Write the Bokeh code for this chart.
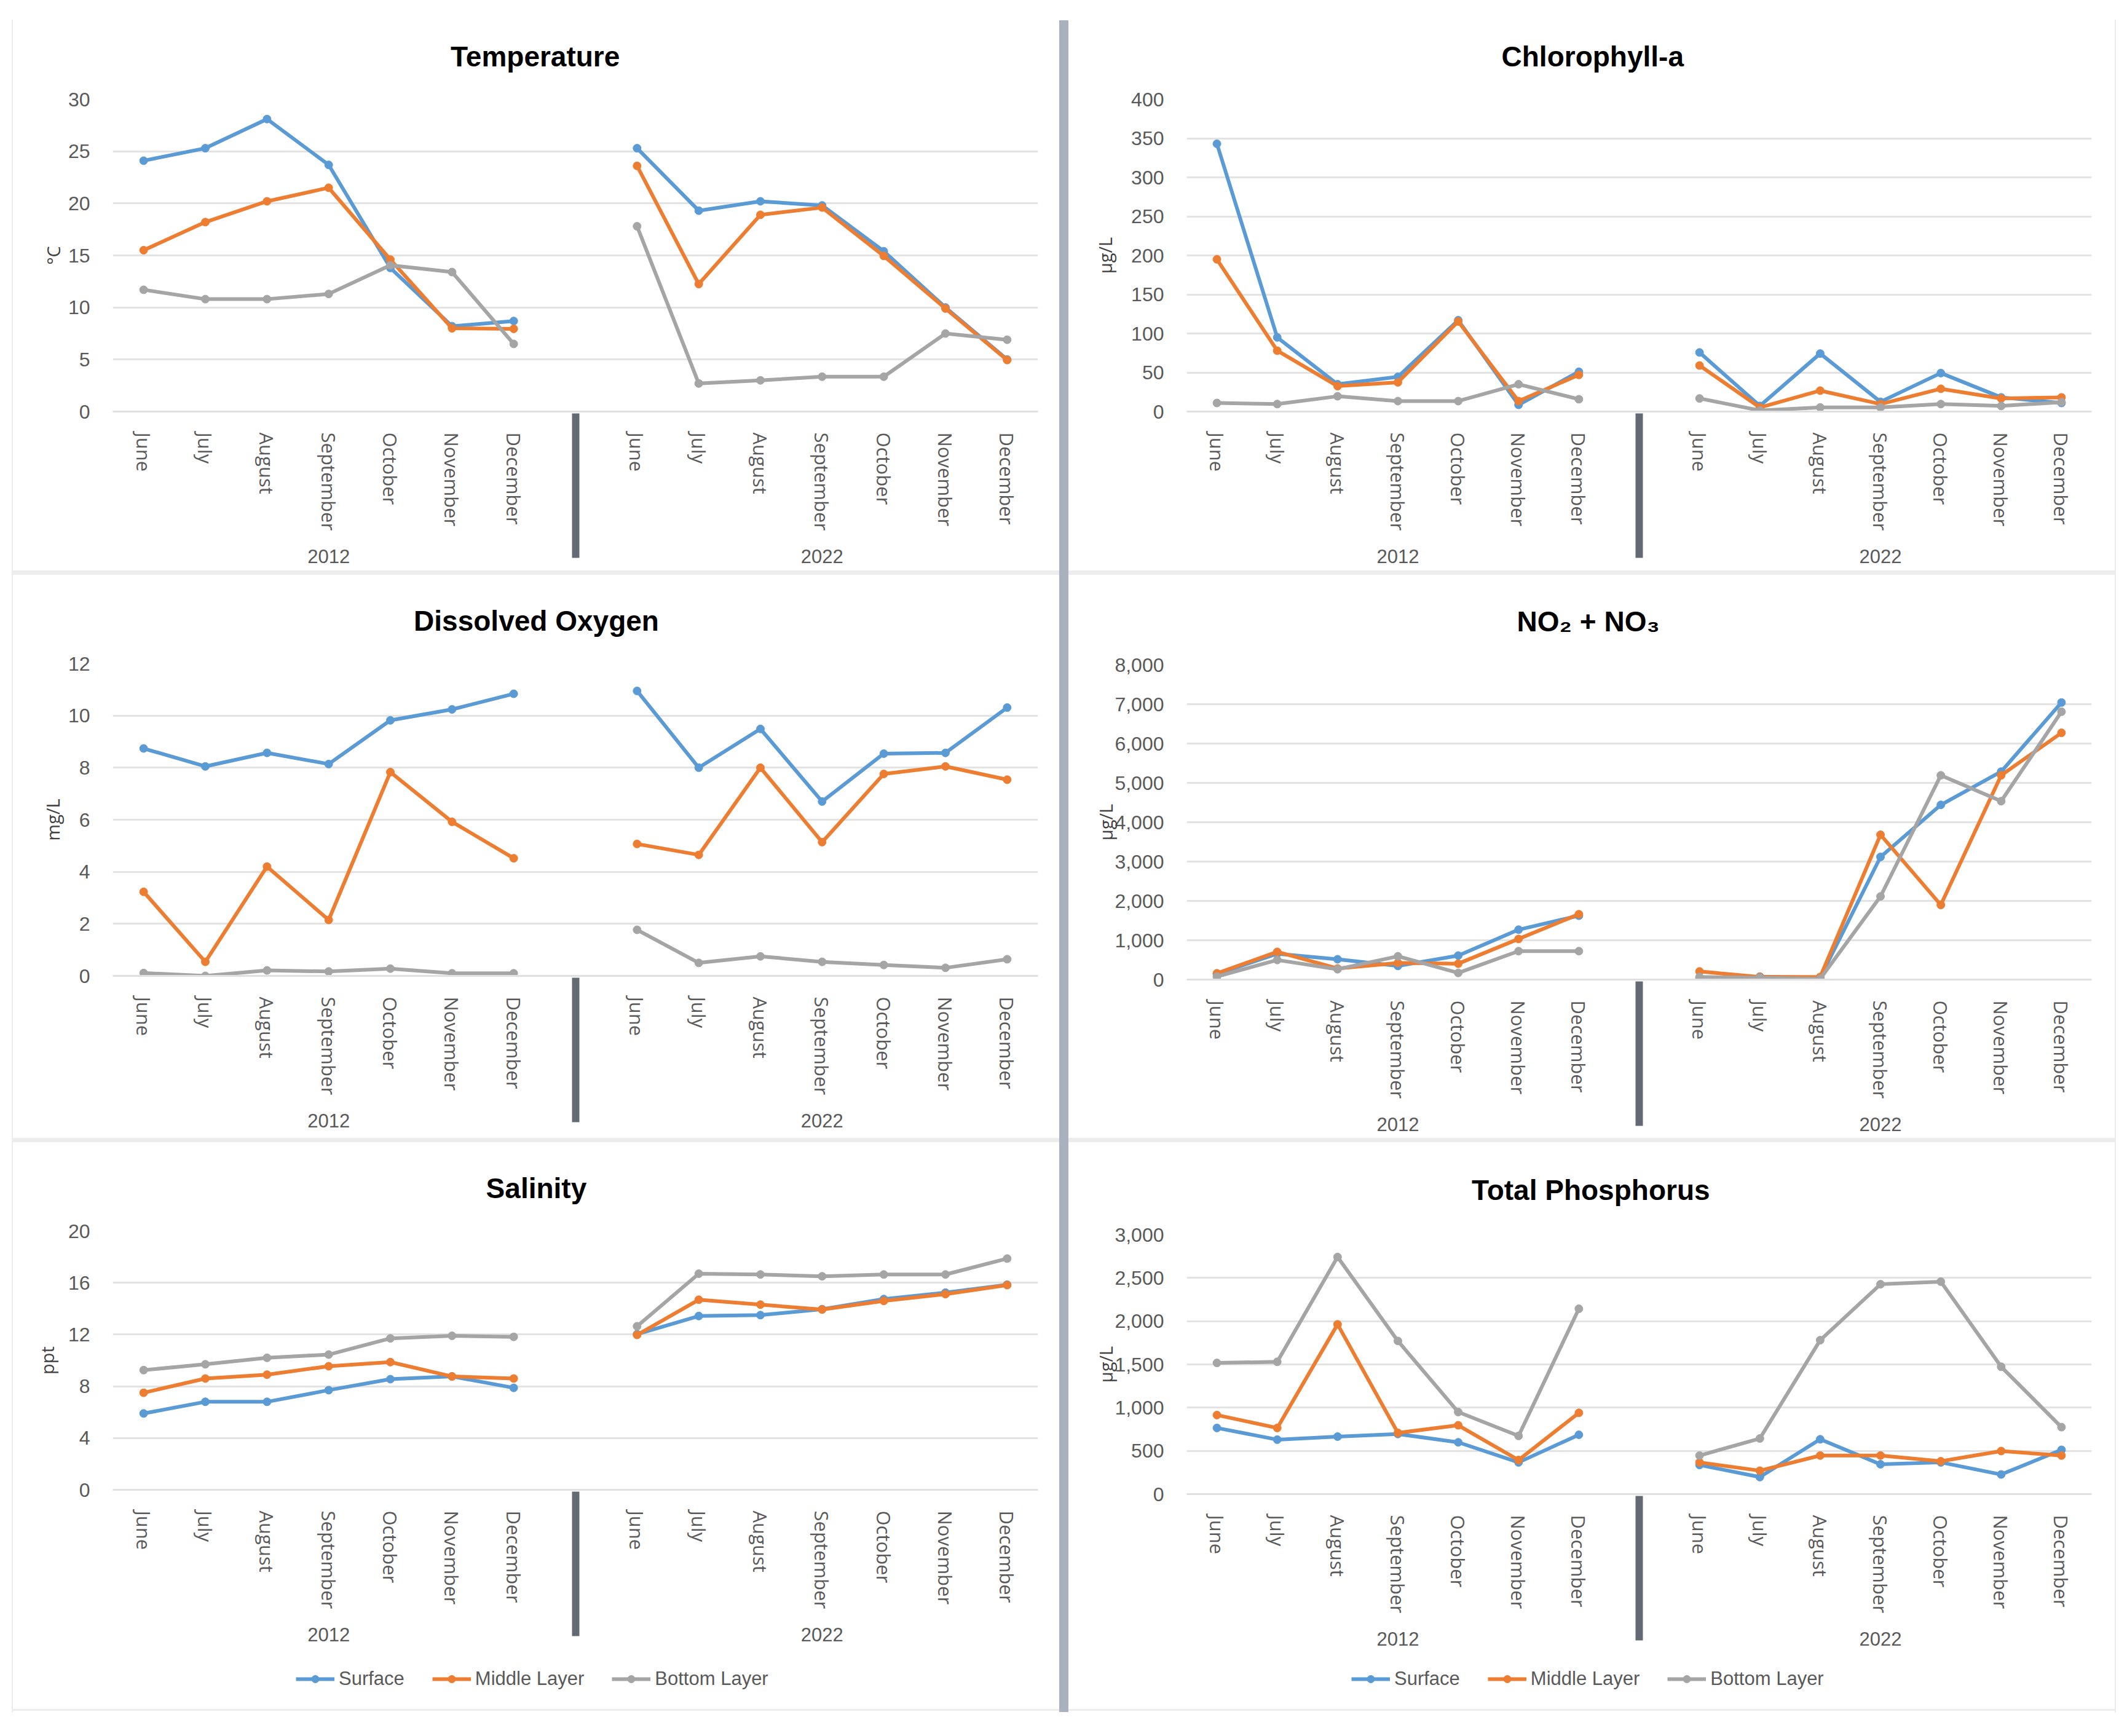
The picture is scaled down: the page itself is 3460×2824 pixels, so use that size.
from bokeh.plotting import figure
from bokeh.models import (FactorRange, Range1d, FixedTicker, NumeralTickFormatter,
                          Legend, LegendItem, Spacer, Title)
from bokeh.layouts import row, column
from bokeh.embed import file_html
from bokeh.resources import INLINE

years = ["2012", "2022"]
months = ["June", "July", "August", "September", "October", "November", "December"]
layers = ["Surface", "Middle Layer", "Bottom Layer"]
colors = ["#5b9bd5", "#ed7d31", "#a5a5a5"]

# values: 7 for 2012 followed by 7 for 2022
temp_surface = [24.1, 25.3, 28.1, 23.7, 13.8, 8.2, 8.7, 25.3, 19.3, 20.2, 19.8, 15.4, 10.0, 5.0]
temp_middle = [15.5, 18.2, 20.2, 21.5, 14.6, 8.0, 7.95, 23.6, 12.25, 18.9, 19.6, 14.95, 9.9, 4.95]
temp_bottom = [11.7, 10.8, 10.8, 11.3, 14.05, 13.4, 6.5, 17.8, 2.7, 3.0, 3.35, 3.35, 7.5, 6.9]

chl_surface = [343, 95, 35, 44.5, 117, 8.6, 51, 75.7, 7.2, 74.3, 12.5, 49.3, 18.2, 11]
chl_middle = [195, 78, 32.6, 37.4, 115.4, 13.4, 47, 59, 5.3, 26.8, 9.6, 29.2, 16.8, 18.2]
chl_bottom = [11, 9.6, 19.6, 13.4, 13.4, 35, 15.8, 16.8, 1.4, 5.3, 5.3, 9.6, 7.2, 12]

do_surface = [8.74, 8.05, 8.57, 8.14, 9.82, 10.24, 10.84, 10.95, 8.0, 9.49, 6.7, 8.54, 8.57, 10.31]
do_middle = [3.23, 0.54, 4.2, 2.15, 7.83, 5.92, 4.52, 5.07, 4.65, 8.0, 5.14, 7.76, 8.05, 7.54]
do_bottom = [0.11, 0.0, 0.21, 0.17, 0.28, 0.1, 0.1, 1.77, 0.5, 0.75, 0.54, 0.42, 0.31, 0.64]

no_surface = [140, 657, 516, 347, 610, 1268, 1624, 28, 75, 47, 3117, 4441, 5286, 7042]
no_middle = [160, 704, 282, 423, 404, 1033, 1662, 207, 66, 66, 3681, 1897, 5192, 6272]
no_bottom = [75, 498, 263, 592, 169, 723, 723, 66, 47, 19, 2113, 5192, 4535, 6808]

sal_surface = [5.9, 6.8, 6.8, 7.7, 8.55, 8.76, 7.88, 12.03, 13.43, 13.5, 13.96, 14.74, 15.24, 15.85]
sal_middle = [7.5, 8.6, 8.9, 9.55, 9.87, 8.76, 8.6, 11.97, 14.69, 14.31, 13.93, 14.6, 15.12, 15.82]
sal_bottom = [9.25, 9.7, 10.2, 10.45, 11.7, 11.9, 11.82, 12.64, 16.7, 16.64, 16.5, 16.64, 16.64, 17.87]

tp_surface = [765, 630, 665, 695, 599, 367, 686, 337, 197, 634, 345, 367, 227, 512]
tp_middle = [914, 765, 1963, 708, 796, 394, 940, 367, 271, 446, 446, 380, 498, 446]
tp_bottom = [1517, 1530, 2742, 1771, 949, 673, 2143, 446, 643, 1780, 2427, 2457, 1473, 774]

NUM = "Liberation Sans"
SANS = "Open Sans"
TXT = "#595959"
TITLE_PX = 46
TITLE_BOX = 55  # measured height of the title text box

# frames in one column are aligned by the layout, so borders are per column
BL_L, BR_L = 162, 35
BL_R, BR_R = 192, 38


def panel(title, title_em, ylabel, series, ymax, step, comma, w, h, bl, br, bt, bb,
          ylab_standoff):
    factors = [(y, m) for y in years for m in months]
    p = figure(x_range=FactorRange(factors=factors, group_padding=1.0, range_padding=0),
               y_range=Range1d(0, ymax), width=w, height=h,
               output_backend="svg", toolbar_location=None,
               min_border_left=bl, min_border_right=br,
               min_border_top=bt, min_border_bottom=bb)
    p.outline_line_color = None
    p.background_fill_color = "white"
    p.border_fill_color = "white"

    ticker = FixedTicker(ticks=list(range(0, ymax + 1, step)))
    p.yaxis.ticker = ticker
    p.ygrid.ticker = ticker
    p.ygrid.grid_line_color = "#e3e3e3"
    p.ygrid.grid_line_width = 3
    p.xgrid.grid_line_color = None
    if comma:
        p.yaxis.formatter = NumeralTickFormatter(format="0,0")
    p.yaxis.axis_line_color = None
    p.yaxis.major_tick_line_color = None
    p.yaxis.minor_tick_line_color = None
    p.yaxis.major_label_standoff = 31
    p.yaxis.major_label_text_font = NUM
    p.yaxis.major_label_text_font_size = "32px"
    p.yaxis.major_label_text_color = TXT
    p.yaxis.axis_label = ylabel
    p.yaxis.axis_label_text_font = SANS
    p.yaxis.axis_label_text_font_size = "29px"
    p.yaxis.axis_label_text_font_style = "normal"
    p.yaxis.axis_label_text_color = "#404040"
    p.yaxis.axis_label_standoff = ylab_standoff

    xa = p.xaxis[0]
    xa.axis_line_color = "#e0e0e0"
    xa.axis_line_width = 3
    xa.major_tick_line_color = None
    xa.minor_tick_line_color = None
    xa.major_label_orientation = "vertical"
    xa.major_label_standoff = 28
    xa.major_label_text_font = SANS
    xa.major_label_text_font_size = "31px"
    xa.major_label_text_color = TXT
    xa.group_text_font = NUM
    xa.group_text_font_size = "31px"
    xa.group_text_color = TXT
    xa.group_text_font_style = "normal"
    xa.separator_line_color = "#646a73"
    xa.separator_line_width = 12

    for name, color, vals in zip(layers, colors, series):
        for i, yr in enumerate(years):
            xs = [(yr, m) for m in months]
            ys = vals[i * 7:(i + 1) * 7]
            p.line(xs, ys, line_color=color, line_width=6)
            p.scatter(xs, ys, marker="circle", size=13, fill_color=color, line_color=color)

    # title, centred on the whole panel (left aligned with a computed offset)
    text_w = title_em * TITLE_PX
    off = (w / 2 - bl) - text_w / 2
    p.title = Title(text=title, align="left", offset=off, standoff=bt - TITLE_BOX - 1,
                    text_font=NUM, text_font_size=f"{TITLE_PX}px", text_font_style="bold",
                    text_color="#000000")
    return p


def legend_fig(w, series, bl, br, legend_x):
    q = figure(width=w, height=78, output_backend="svg", toolbar_location=None,
               x_axis_type=None, y_axis_type=None,
               min_border_left=bl, min_border_right=br, min_border_top=0, min_border_bottom=0)
    q.outline_line_color = None
    q.xgrid.grid_line_color = None
    q.ygrid.grid_line_color = None
    items = []
    for name, color, vals in zip(layers, colors, series):
        xs = list(range(len(vals)))
        l = q.line(xs, vals, line_color=color, line_width=6, visible=False)
        s = q.scatter(xs, vals, marker="circle", size=13, fill_color=color,
                      line_color=color, visible=False)
        items.append(LegendItem(label=name, renderers=[l, s]))
    lg = Legend(items=items, orientation="horizontal",
                location=(legend_x, 31),
                label_text_font=NUM, label_text_font_size="31px",
                label_text_color=TXT, glyph_width=63, glyph_height=30,
                spacing=45, label_standoff=7, border_line_color=None,
                margin=0, padding=0, background_fill_alpha=0,
                inactive_fill_alpha=0)
    q.add_layout(lg)
    return q


W_L, W_R = 1702, 1702

tl = panel("Temperature", 6.06, "°C", [temp_surface, temp_middle, temp_bottom], 30, 5, False,
           W_L, 911, BL_L, BR_L, 144, 259, 2)
tr = panel("Chlorophyll-a", 6.39, "µg/L", [chl_surface, chl_middle, chl_bottom], 400, 50, False,
           W_R, 911, BL_R, BR_R, 144, 259, 20)
ml = panel("Dissolved Oxygen", 8.67, "mg/L", [do_surface, do_middle, do_bottom], 12, 2, False,
           W_L, 916, BL_L, BR_L, 144, 264, 3)
mr = panel("NO₂ + NO₃", 5.3, "µg/L", [no_surface, no_middle, no_bottom], 8000, 1000, True,
           W_R, 916, BL_R, BR_R, 146, 258, -8)
sal_series = [sal_surface, sal_middle, sal_bottom]
tp_series = [tp_surface, tp_middle, tp_bottom]
bl_ = panel("Salinity", 3.56, "ppt", sal_series, 20, 4, False,
            W_L, 844, BL_L, BR_L, 144, 279, 12)
br_ = panel("Total Phosphorus", 8.5, "µg/L", tp_series, 3000, 500, True,
            W_R, 844, BL_R, BR_R, 150, 272, -8)

band = {"background-color": "#ececec"}
TOP = 17
left_col = column(Spacer(width=W_L, height=TOP), tl, Spacer(width=W_L, height=7, styles=band),
                  ml, Spacer(width=W_L, height=7, styles=band), bl_,
                  legend_fig(W_L, sal_series, BL_L, BR_L, 298),
                  Spacer(width=W_L, height=3, styles=band))
vsep = column(Spacer(width=15, height=33),
              Spacer(width=15, height=2752, styles={"background-color": "#a9b1bf"}))
right_col = column(Spacer(width=W_R, height=TOP), tr, Spacer(width=W_R, height=7, styles=band),
                   mr, Spacer(width=W_R, height=7, styles=band), br_,
                   legend_fig(W_R, tp_series, BL_R, BR_R, 268),
                   Spacer(width=W_R, height=3, styles=band))
edge_l = column(Spacer(width=2, height=32), Spacer(width=2, height=2754, styles=band))
edge_r = column(Spacer(width=2, height=32), Spacer(width=2, height=2754, styles=band))
page = row(Spacer(width=19, height=10), edge_l, left_col, vsep, right_col, edge_r)

open("out.html", "w").write(file_html(page, INLINE))
